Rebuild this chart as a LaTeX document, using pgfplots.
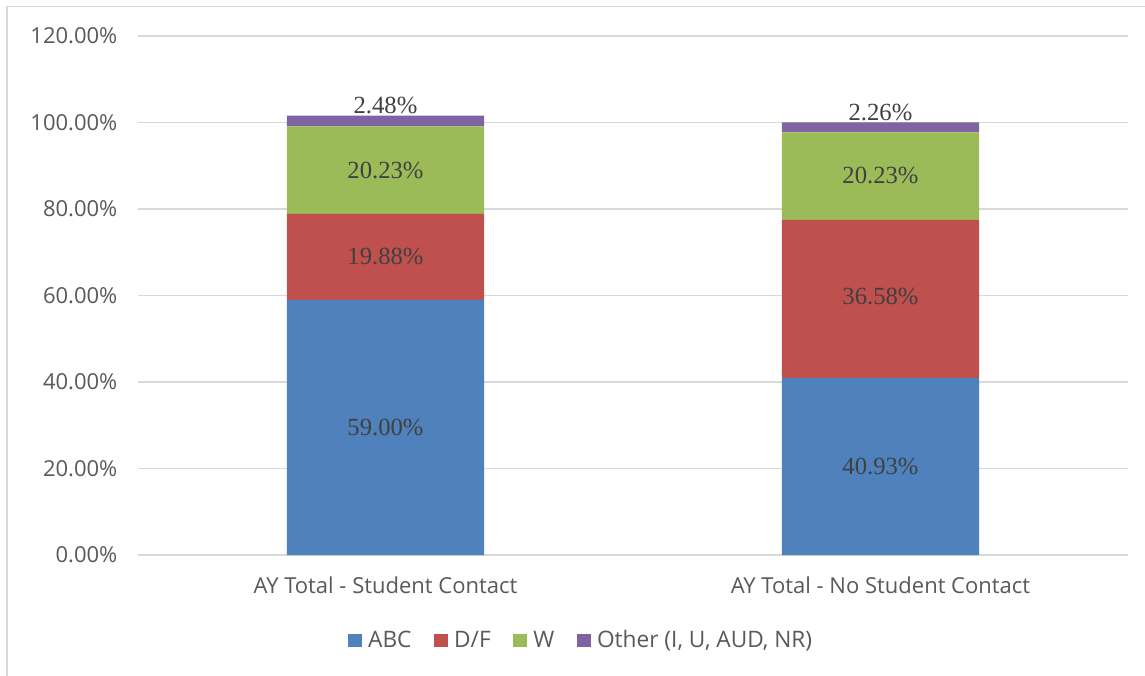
\documentclass[border=0pt]{standalone}
\usepackage{pgfplots}
\pgfplotsset{compat=1.18}
\usepackage{fontspec}
\setmainfont{Open Sans}
\newfontfamily\labelfont{Liberation Serif}

\definecolor{cABC}{HTML}{4F81BD}
\definecolor{cDF}{HTML}{C0504D}
\definecolor{cW}{HTML}{9BBB59}
\definecolor{cOther}{HTML}{8064A2}
\definecolor{txt}{HTML}{595959}
\definecolor{lbl}{HTML}{404040}
\definecolor{gridc}{HTML}{D9D9D9}

\pgfplotsset{
  base/.style={
    width=742.5pt, height=389.25pt, scale only axis,
    at={(103.5pt,90pt)}, anchor=south west,
    xmin=-0.5, xmax=1.5, ymin=0, ymax=120,
  },
}

\begin{document}
\begin{tikzpicture}
\useasboundingbox (0,0) rectangle (858.75pt,506.25pt);
\draw[gridc, line width=1.2pt] (5.25pt,-5pt) -- (5.25pt,501.5pt) -- (870pt,501.5pt);

\begin{axis}[
    base,
    ybar stacked,
    bar width=148pt,
    axis line style={draw=none},
    tick style={draw=none},
    ytick={0,20,...,120},
    yticklabel={\pgfmathprintnumber[fixed,fixed zerofill,precision=2]{\tick}\%},
    /pgf/number format/assume math mode=true,
    xtick={0,1},
    xticklabels={AY Total - Student Contact, AY Total - No Student Contact},
    ticklabel style={font=\fontsize{16.5}{19}\selectfont, text=txt},
    yticklabel style={xshift=-12pt},
    xticklabel style={yshift=-13pt},
    ymajorgrids=true,
    grid style={gridc, line width=1pt},
    legend style={
      at={(0.448,-0.135)}, anchor=north, draw=none,
      legend columns=-1,
      font=\fontsize{17}{19}\selectfont, text=txt,
      /tikz/every odd column/.append style={column sep=2.5pt},
      /tikz/every even column/.append style={column sep=15pt},
    },
    legend image code/.code={\fill[#1] (0pt,-5pt) rectangle (10.5pt,5pt);},
]
\addplot[fill=cABC, draw=none] coordinates {(0,59.00) (1,40.93)};
\addplot[fill=cDF, draw=none] coordinates {(0,19.88) (1,36.58)};
\addplot[fill=cW, draw=none] coordinates {(0,20.23) (1,20.23)};
\addplot[fill=cOther, draw=none] coordinates {(0,2.48) (1,2.26)};
\legend{ABC, D/F, W, {Other (I, U, AUD, NR)}}
\end{axis}

\begin{axis}[
    base,
    hide axis,
    nodes near coords,
    point meta=explicit symbolic,
    every node near coord/.append style={font=\labelfont\fontsize{18.5}{22}\selectfont, text=lbl, anchor=center},
]
\addplot[draw=none, mark=none] coordinates {
  (0,29.50) [59.00\%]
  (0,68.94) [19.88\%]
  (0,88.995) [20.23\%]
  (1,20.465) [40.93\%]
  (1,59.69) [36.58\%]
  (1,87.855) [20.23\%]
};
\addplot[draw=none, mark=none, every node near coord/.append style={anchor=south, yshift=-2pt}] coordinates {
  (0,101.59) [2.48\%]
  (1,100.00) [2.26\%]
};
\end{axis}
\end{tikzpicture}
\end{document}
